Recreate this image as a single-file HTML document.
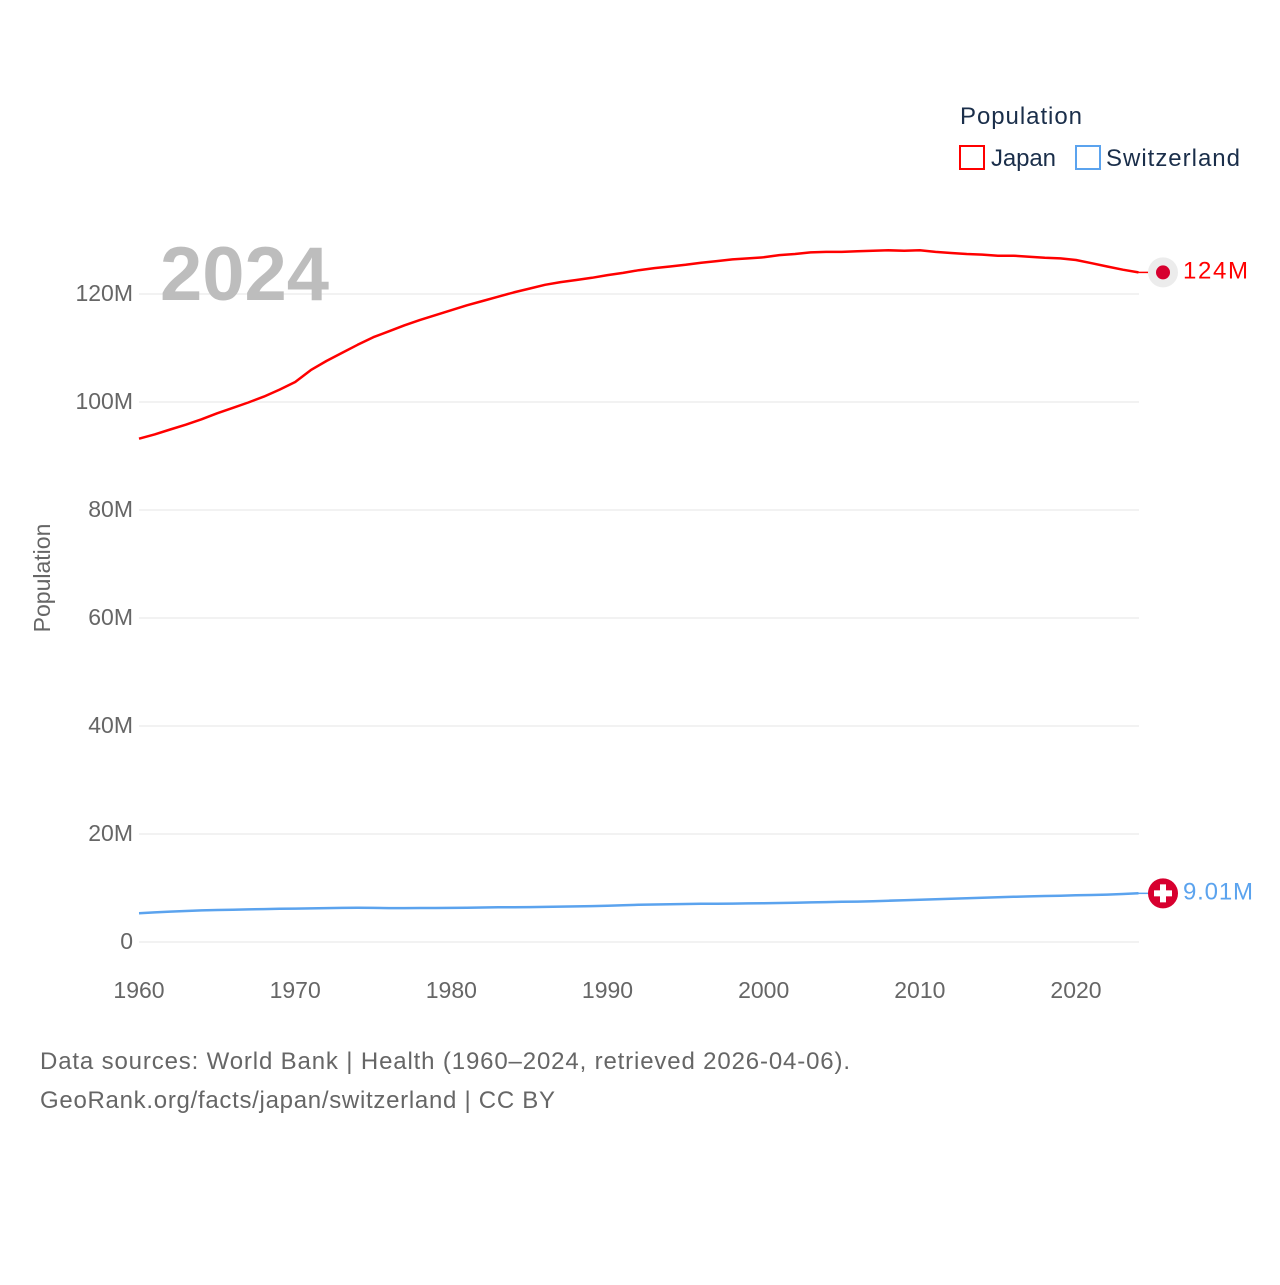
<!DOCTYPE html>
<html><head><meta charset="utf-8"><style>
body{margin:0;background:#fff;}
svg text{font-family:"Liberation Sans",sans-serif;}
</style></head><body>
<svg width="1280" height="1280" viewBox="0 0 1280 1280" xmlns="http://www.w3.org/2000/svg">
<rect width="1280" height="1280" fill="#fff"/>
<g id="grid"></g>
<g id="series"></g>
<text x="160" y="300" font-size="76" font-weight="bold" fill="#bdbdbd">2024</text>
<text transform="translate(50,578) rotate(-90)" text-anchor="middle" font-size="23" fill="#666">Population</text>
<text x="960" y="124" font-size="24" fill="#1a2e4a" textLength="122">Population</text>
<g>
<rect x="960" y="146" width="24" height="23" fill="none" stroke="#ff0000" stroke-width="2"/>
<text x="991" y="166" font-size="24" fill="#1a2e4a" textLength="65">Japan</text></g>
<g>
<rect x="1076" y="146" width="24" height="23" fill="none" stroke="#5ba3ee" stroke-width="2"/>
<text x="1106" y="166" font-size="24" fill="#1a2e4a" textLength="134">Switzerland</text></g>
<text x="40" y="1069" font-size="24" fill="#666" textLength="810">Data sources: World Bank | Health (1960–2024, retrieved 2026-04-06).</text>
<text x="40" y="1108" font-size="24" fill="#666" textLength="515">GeoRank.org/facts/japan/switzerland | CC BY</text>
</svg>
<script>
const years=[];for(let y=1960;y<=2024;y++)years.push(y);
const japan=[93.2,94.0,94.9,95.8,96.8,97.9,98.9,99.9,101.0,102.3,103.7,105.9,107.6,109.1,110.6,112.0,113.1,114.2,115.2,116.1,117.0,117.9,118.7,119.5,120.3,121.0,121.7,122.2,122.6,123.0,123.5,123.9,124.4,124.8,125.1,125.4,125.8,126.1,126.4,126.6,126.8,127.2,127.4,127.7,127.8,127.8,127.9,128.0,128.1,128.0,128.1,127.8,127.6,127.4,127.3,127.1,127.1,126.9,126.7,126.6,126.3,125.7,125.1,124.5,124.0];
const swiss=[5.33,5.49,5.63,5.75,5.85,5.92,5.97,6.03,6.09,6.14,6.18,6.23,6.28,6.32,6.34,6.32,6.27,6.28,6.29,6.30,6.32,6.35,6.39,6.42,6.44,6.47,6.50,6.55,6.59,6.65,6.71,6.80,6.88,6.94,6.99,7.04,7.07,7.09,7.11,7.14,7.18,7.23,7.28,7.34,7.39,7.44,7.48,7.55,7.65,7.74,7.82,7.91,8.00,8.09,8.19,8.28,8.37,8.45,8.51,8.57,8.64,8.70,8.78,8.89,9.01];
const yTicks=[0,20,40,60,80,100,120];
const xTicks=[1960,1970,1980,1990,2000,2010,2020];
const NS='http://www.w3.org/2000/svg';
const sx=y=>139+(y-1960)*(1076-139)/60;
const sy=v=>942-v*5.4;
const grid=document.getElementById('grid'),ser=document.getElementById('series');
function mk(tag,attrs,parent){const e=document.createElementNS(NS,tag);for(const k in attrs)e.setAttribute(k,attrs[k]);parent.appendChild(e);return e;}
yTicks.forEach(t=>{
 const l=mk('line',{x1:139,x2:1139,y1:sy(t),y2:sy(t),stroke:'#e6e6e6','stroke-width':1},grid);
 
 
 const tx=mk('text',{x:133,y:sy(t)+7,'text-anchor':'end','font-size':23,fill:'#666'},grid);
 tx.textContent=t===0?'0':t+'M';
 
 
});
xTicks.forEach(t=>{
 const tx=mk('text',{x:sx(t),y:998,'text-anchor':'middle','font-size':23,fill:'#666'},grid);
 tx.textContent=t;
 
 
});
function line(vals,color,name){
 const d=vals.map((v,i)=>(i?'L':'M')+sx(years[i]).toFixed(1)+','+sy(v).toFixed(1)).join(' ');
 const p=mk('path',{d:d,fill:'none',stroke:color,'stroke-width':2.5,'stroke-linejoin':'round'},ser);
 
 
}
line(japan,'#ff0000','japan-line');
line(swiss,'#5ba3ee','switzerland-line');
const jl=japan[japan.length-1],sl=swiss[swiss.length-1],xe=sx(2024);
mk('line',{x1:xe,x2:1150,y1:sy(jl),y2:sy(jl),stroke:'#ff0000','stroke-width':1.5},ser);
mk('line',{x1:xe,x2:1150,y1:sy(sl),y2:sy(sl),stroke:'#5ba3ee','stroke-width':1.5},ser);
const jm=mk('g',{},ser);


mk('circle',{cx:1163,cy:sy(jl),r:15,fill:'#ececec'},jm);
mk('circle',{cx:1163,cy:sy(jl),r:7,fill:'#d7002f'},jm);
const jt=mk('text',{x:1183,y:sy(jl)+6,'font-size':24,fill:'#ff0000',textLength:65},jm);jt.textContent=Math.round(jl)+'M';
const sm=mk('g',{},ser);


const cy=sy(sl);
mk('circle',{cx:1163,cy:cy,r:15,fill:'#d7002f'},sm);
mk('rect',{x:1160,y:cy-9,width:6,height:18,fill:'#fff'},sm);
mk('rect',{x:1154,y:cy-3,width:18,height:6,fill:'#fff'},sm);
const st=mk('text',{x:1183,y:cy+6,'font-size':24,fill:'#5ba3ee',textLength:70},sm);st.textContent=sl.toFixed(2)+'M';
</script>
</body></html>
